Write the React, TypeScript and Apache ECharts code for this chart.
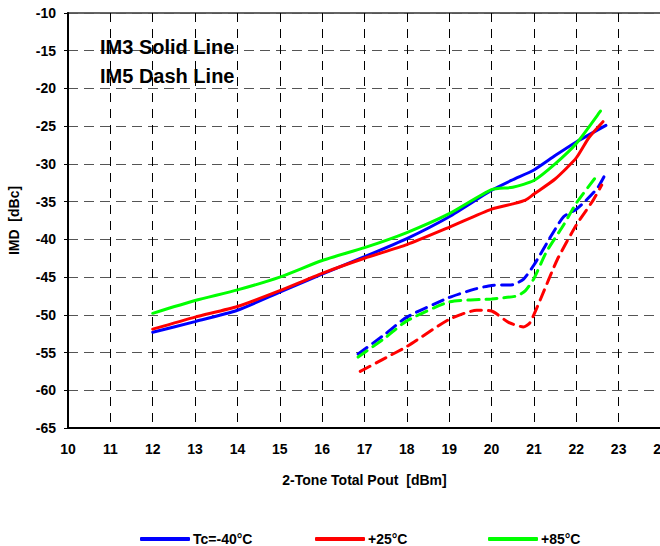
import React, { useEffect, useRef } from "react";
import * as echarts from "echarts";

const legendNames = ["Tc=-40°C", "+25°C", "+85°C"];
const colors = ["#0000FF", "#FF0000", "#00FF00"];

const blueIM3: number[][] = [[12,-52.3],[13,-50.9],[14,-49.4],[15,-47.0],[16,-44.6],[17,-42.3],[18,-39.9],[19,-37.0],[20,-33.5],[20.5,-32.1],[21,-30.8],[21.5,-28.9],[22,-27.1],[22.7,-24.9]];
const redIM3: number[][] = [[12,-51.9],[13,-50.3],[14,-48.9],[15,-46.8],[16,-44.5],[17,-42.5],[18,-40.7],[19,-38.4],[20,-36.0],[20.5,-35.3],[20.8,-34.8],[21,-34.0],[21.5,-32.0],[22,-29.2],[22.3,-26.5],[22.63,-24.4]];
const greenIM3: number[][] = [[12,-49.8],[13,-48.1],[14,-46.7],[15,-45.0],[16,-42.8],[17,-41.1],[18,-39.1],[19,-36.6],[20,-33.4],[20.5,-33.1],[21,-32.2],[21.5,-30.0],[22,-27.3],[22.57,-23.0]];

const blueIM5: number[][] = [[16.85,-55.2],[17.5,-52.5],[18,-50.3],[19,-47.7],[19.6,-46.6],[20,-46.1],[20.5,-46.0],[20.75,-45.3],[21,-43.4],[21.4,-39.6],[21.7,-37.0],[22,-36.0],[22.2,-35.0],[22.5,-33.2],[22.72,-31.0]];
const greenIM5: number[][] = [[16.85,-55.6],[17.5,-53.0],[18,-50.8],[19,-48.3],[20,-47.9],[20.6,-47.5],[20.8,-46.8],[21,-45.2],[21.3,-41.6],[21.7,-38.1],[22,-35.2],[22.44,-31.9]];
const redIM5: number[][] = [[16.9,-57.5],[17.5,-55.7],[18,-54.2],[19,-50.6],[19.65,-49.4],[20,-49.5],[20.4,-51.0],[20.75,-51.6],[20.9,-51.1],[21.15,-48.0],[21.55,-42.7],[22,-38.1],[22.4,-34.8],[22.6,-32.8]];

const annotations = ["IM3 Solid Line", "IM5 Dash Line"];
const xName = "2-Tone Total Pout  [dBm]";
const yName = "IMD  [dBc]";

const FONT = "'Liberation Sans', Arial, sans-serif";

export default function App() {
  const ref = useRef<HTMLDivElement>(null);
  useEffect(() => {
    if (!ref.current) return;
    const chart = echarts.init(ref.current, undefined, { renderer: "svg" });
    const line = (name: string, data: number[][], color: string, dash: boolean) => ({
      name,
      type: "line",
      data,
      smooth: 0.2,
      showSymbol: false,
      symbol: "none",
      lineStyle: { color, width: 3, type: dash ? [11, 7] : "solid", cap: "round" },
      itemStyle: { color },
      z: 3,
    });
    const legendLefts = [135, 310, 483];
    chart.setOption({
      animation: false,
      backgroundColor: "#ffffff",
      textStyle: { fontFamily: FONT },
      grid: {
        left: 68,
        top: 13,
        width: 593,
        height: 415,
        outerBoundsMode: "none",
        containLabel: false,
        show: true,
        borderColor: "#333",
        borderWidth: 1.5,
        backgroundColor: "transparent",
      },
      legend: legendNames.map((n, i) => ({
        data: [n],
        left: legendLefts[i],
        top: 527,
        icon: "roundRect",
        itemWidth: 50,
        itemHeight: 4,
        itemGap: 4,
        textStyle: { fontFamily: FONT, fontWeight: "bold", fontSize: 14, color: "#000", padding: [0, 0, 0, -2] },
      })),
      xAxis: {
        type: "value",
        min: 10,
        max: 24,
        interval: 1,
        name: xName,
        nameLocation: "middle",
        nameGap: 45,
        nameTextStyle: { fontFamily: FONT, fontWeight: "bold", fontSize: 14, color: "#000" },
        axisLine: { show: true, onZero: false, lineStyle: { color: "#000", width: 2 } },
        axisTick: { show: false },
        axisLabel: { margin: 14, fontFamily: FONT, fontWeight: "bold", fontSize: 14, color: "#000", showMaxLabel: true, hideOverlap: false },
        splitLine: { show: true, lineStyle: { color: "#000", width: 1, type: [9, 7] } },
      },
      yAxis: {
        type: "value",
        min: -65,
        max: -10,
        interval: 5,
        name: yName,
        nameLocation: "middle",
        nameGap: 47,
        nameRotate: 90,
        nameTextStyle: { fontFamily: FONT, fontWeight: "bold", fontSize: 14, color: "#000" },
        axisLine: { show: true, onZero: false, lineStyle: { color: "#000", width: 2 } },
        axisTick: { show: true, length: 4, lineStyle: { color: "#000" } },
        axisLabel: { margin: 12, fontFamily: FONT, fontWeight: "bold", fontSize: 14, color: "#000" },
        splitLine: { show: true, lineStyle: { color: "#555", width: 1.2, type: [10, 6] } },
      },
      graphic: annotations.map((t, i) => ({
        type: "text",
        left: 100,
        top: 37 + i * 29,
        style: { text: t, fontFamily: FONT, fontWeight: "bold", fontSize: 20, fill: "#000" },
        z: 10,
      })),
      series: [
        line(legendNames[0], blueIM3, colors[0], false),
        line(legendNames[1], redIM3, colors[1], false),
        line(legendNames[2], greenIM3, colors[2], false),
        line("IM5 " + legendNames[0], blueIM5, colors[0], true),
        line("IM5 " + legendNames[1], redIM5, colors[1], true),
        line("IM5 " + legendNames[2], greenIM5, colors[2], true),
      ],
    });
    return () => chart.dispose();
  }, []);
  return (
    <div
      ref={ref}
      style={{ position: "fixed", left: 0, top: 0, width: 660, height: 546, background: "#fff" }}
    />
  );
}
